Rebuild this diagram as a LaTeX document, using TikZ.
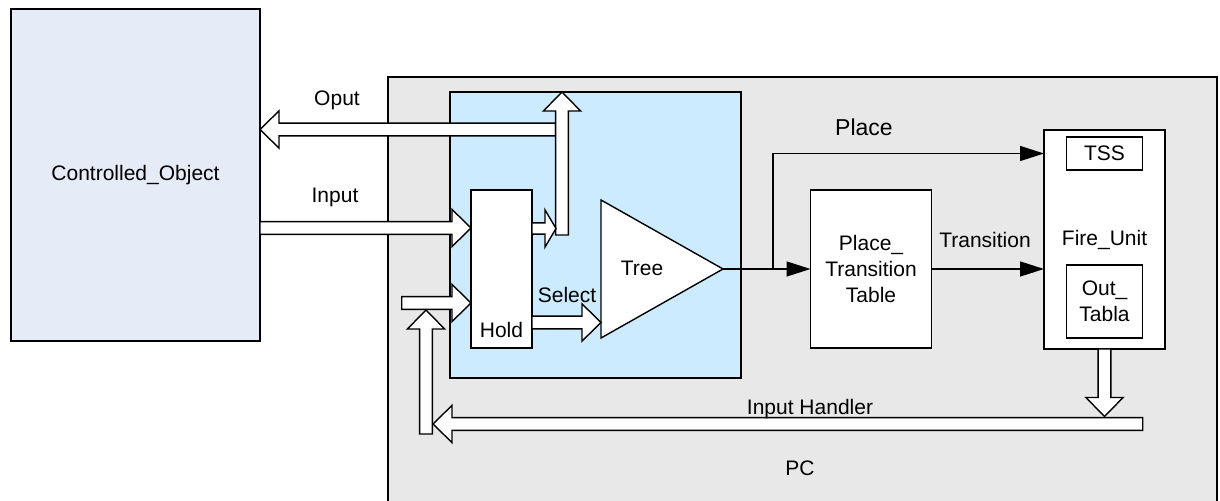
\documentclass[tikz,border=0pt]{standalone}
\usepackage{fontspec}
\setmainfont{Liberation Sans}
\usepackage{tikz}
\usetikzlibrary{arrows.meta, positioning, calc}
\usepackage{xcolor}
\definecolor{objfill}{HTML}{E6ECF7}
\definecolor{pcfill}{HTML}{E8E8E8}
\definecolor{corefill}{HTML}{CCEBFF}
\newcommand{\arrshaft}{3.2pt}
\newcommand{\arrhead}{9.3pt}
% hollow block arrow: [head length]{tail}{tip}
\newcommand{\hollowarrow}[3][9.5pt]{%
  \coordinate (hb) at ($(#3)!#1!(#2)$);
  \filldraw[fatarrow] ($(#2)!\arrshaft!90:(#3)$) -- ($(hb)!\arrshaft!90:(#3)$)
    -- ($(hb)!\arrhead!90:(#3)$) -- (#3) -- ($(hb)!\arrhead!-90:(#3)$)
    -- ($(hb)!\arrshaft!-90:(#3)$) -- ($(#2)!\arrshaft!-90:(#3)$) -- cycle;
}

\begin{document}
\begin{tikzpicture}[x=0.5pt, y=-0.5pt,
    font=\fontsize{10.5}{13}\selectfont,
    blk/.style={draw, line width=0.7pt, fill=white, inner sep=0pt, outer sep=0pt},
    fatarrow/.style={draw=black, fill=white, line width=0.7pt, line join=miter},
    sig/.style={line width=0.65pt, -{Triangle[length=12pt, width=7.5pt]}},
    lbl/.style={inner sep=0pt}]
      \useasboundingbox (0,0) rectangle (1220,501);

      % PC frame, open at the bottom
      \fill[pcfill] (388,77) rectangle (1217,501);
      \draw[line width=0.7pt] (388,501) -- (388,77) -- (1217,77) -- (1217,501);
      \node[lbl] (pc) at (800,468) {PC};

      % Controlled object
      \node[blk, fill=objfill, minimum width=124.5pt, minimum height=166pt] (ctl) at (135.5,175) {Controlled\_Object};

      % Core: hold + tree
      \node[blk, fill=corefill, minimum width=145.5pt, minimum height=143pt] (core) at (595.5,235) {};
      \node[blk, minimum width=30.5pt, minimum height=79pt] (hold) at (501.5,269) {};
      \node[lbl, above=5pt of hold.south] (holdlbl) {Hold};
      \coordinate (t1) at (601,200);
      \coordinate (apex) at (723,269);
      \coordinate (t2) at (601,338);
      \draw[blk] (t1) -- (apex) -- (t2) -- cycle;
      \node[lbl] (tree) at (642,268) {Tree};

      % Table and fire unit
      \node[blk, minimum width=60.5pt, minimum height=79pt, align=center] (ptt) at (871,269) {Place\_\\Transition\\Table};
      \node[blk, minimum width=60.5pt, minimum height=109.5pt] (fire) at (1104.5,239.5) {Fire\_Unit};
      \node[blk, minimum width=38pt, minimum height=16.5pt] (tss) at (1104.5,153.5) {TSS};
      \node[blk, minimum width=38pt, minimum height=36.5pt, align=center] (outt) at (1104.5,301.5) {Out\_\\Tabla};

      % Signal lines
      \coordinate (split) at (773,269);
      \draw[sig] (apex) -- (ptt.west);
      \draw[sig] (split) |- (tss -| fire.west);
      \draw[sig] (ptt.east) -- (ptt.east -| fire.west);
      \node[lbl, font=\fontsize{11.5}{13}\selectfont] (placelbl) at (864,127) {Place};
      \node[lbl] (translbl) at (985,240) {Transition};

      % Block arrows
      \path (ctl.east) ++(0,-45.5) coordinate (oputH);
      \coordinate (oputT) at (555.5,129.5);
      \hollowarrow{oputT}{oputH};
      \path (ctl.east) ++(0,53) coordinate (inT);
      \coordinate (inH) at (inT -| hold.west);
      \hollowarrow{inT}{inH};
      \coordinate (upT) at (562,235);
      \coordinate (upH) at (upT |- core.north);
      \hollowarrow{upT}{upH};
      \path (hold.east) ++(0,-40.5) coordinate (hupT);
      \coordinate (hupH) at (556,228.5);
      {\renewcommand{\arrshaft}{2.8pt}\hollowarrow[5.5pt]{hupT}{hupH}}
      \path (hold.east) ++(0,53.5) coordinate (selT);
      \coordinate (selH) at (selT -| t1);
      \hollowarrow{selT}{selH};
      \coordinate (fbT) at (401.7,303);
      \coordinate (fbH) at (fbT -| hold.west);
      \hollowarrow{fbT}{fbH};
      \coordinate (ihT) at (1142.7,424);
      \coordinate (ihH) at (433,424);
      \hollowarrow{ihT}{ihH};
      \coordinate (lvT) at (426,434);
      \coordinate (lvH) at (426,310);
      \hollowarrow{lvT}{lvH};
      \path (fire.south) ++(0,67.5) coordinate (fdH);
      \hollowarrow{fire.south}{fdH};

      % Arrow labels
      \node[lbl] (oputlbl) at (337,100) {Oput};
      \node[lbl] (inlbl) at (335,197) {Input};
      \node[lbl] (sellbl) at (567,295) {Select};
      \node[lbl] (ihlbl) at (810,409) {Input Handler};
    \end{tikzpicture}
\end{document}
